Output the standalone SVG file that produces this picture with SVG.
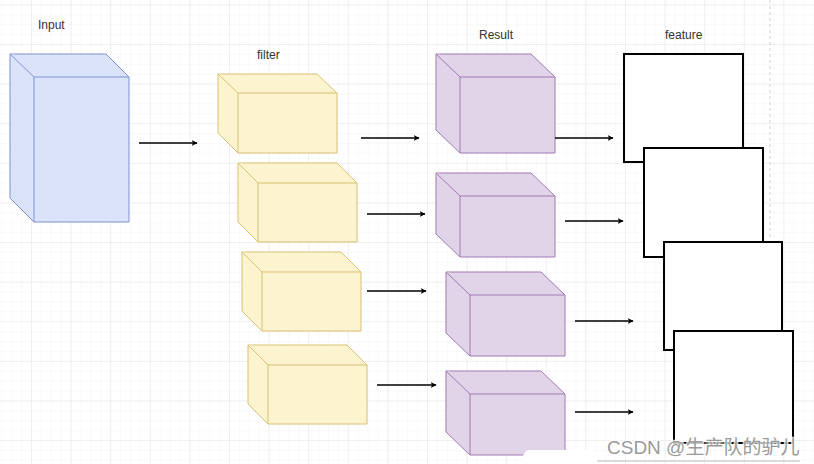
<svg xmlns="http://www.w3.org/2000/svg" width="814" height="464" viewBox="0 0 814 464">
<defs>
<pattern id="minor" x="31" y="4.4" width="9.9" height="9.9" patternUnits="userSpaceOnUse">
<path d="M0 0H9.9M0 0V9.9" fill="none" stroke="#f3f3f3" stroke-width="1"/>
</pattern>
<pattern id="major" x="31" y="4.4" width="39.6" height="39.6" patternUnits="userSpaceOnUse">
<path d="M0 0H39.6M0 0V39.6" fill="none" stroke="#e6e6e6" stroke-width="1"/>
</pattern>
<marker id="arr" viewBox="0 0 10 10" refX="9" refY="5" markerWidth="6" markerHeight="6" markerUnits="userSpaceOnUse" orient="auto">
<path d="M0 0L10 5L0 10L2.5 5Z" fill="#000"/>
</marker>
</defs>
<style>
.lbl{font-family:"Liberation Sans",Arial,sans-serif;font-size:12px;fill:#333}
.blue{fill:#dbe3fa;stroke:#7e93cf;stroke-width:1}
.yel{fill:#fcf4cf;stroke:#d9c072;stroke-width:1}
.pur{fill:#e2d4e8;stroke:#a178b2;stroke-width:1}
.feat{fill:#fff;stroke:#000;stroke-width:2}
.con{fill:none;stroke:#000;stroke-width:1.3;marker-end:url(#arr)}
</style>
<rect width="814" height="464" fill="#fff"/>
<rect width="814" height="464" fill="url(#minor)"/>
<rect width="814" height="464" fill="url(#major)"/>
<line x1="770" y1="0" x2="770" y2="240" stroke="#cfcfcf" stroke-width="1" stroke-dasharray="3 3"/>

<text class="lbl" x="38" y="29">Input</text>
<text class="lbl" x="257" y="59">filter</text>
<text class="lbl" x="479" y="39">Result</text>
<text class="lbl" x="665" y="39">feature</text>

<g id="input">
<path class="blue" d="M10 54H106L129 77V222H34L10 198Z"/>
<path class="blue" d="M10 54L34 77H129M34 77V222" fill="none"/>
</g>

<g id="filter1">
<path class="yel" d="M218 74H317L337 93V153H238L218 133Z"/>
<path class="yel" d="M218 74L238 93H337M238 93V153" fill="none"/>
</g>
<g id="filter2">
<path class="yel" d="M238 163H337L357 183V242H258L238 222Z"/>
<path class="yel" d="M238 163L258 183H357M258 183V242" fill="none"/>
</g>
<g id="filter3">
<path class="yel" d="M242 252H341L361 272V331H262L242 311Z"/>
<path class="yel" d="M242 252L262 272H361M262 272V331" fill="none"/>
</g>
<g id="filter4">
<path class="yel" d="M248 345H347L367 365V424H268L248 404Z"/>
<path class="yel" d="M248 345L268 365H367M268 365V424" fill="none"/>
</g>

<g id="result1">
<path class="pur" d="M436 54H531L555 77V153H460L436 130Z"/>
<path class="pur" d="M436 54L460 77H555M460 77V153" fill="none"/>
</g>
<g id="result2">
<path class="pur" d="M436 173H531L555 196V257H460L436 234Z"/>
<path class="pur" d="M436 173L460 196H555M460 196V257" fill="none"/>
</g>
<g id="result3">
<path class="pur" d="M446 272H541L565 295V356H470L446 333Z"/>
<path class="pur" d="M446 272L470 295H565M470 295V356" fill="none"/>
</g>
<g id="result4">
<path class="pur" d="M446 371H541L565 394V455H470L446 432Z"/>
<path class="pur" d="M446 371L470 394H565M470 394V455" fill="none"/>
</g>

<g id="feature1"><rect class="feat" x="624" y="54" width="119" height="108"/></g>
<g id="feature2"><rect class="feat" x="644" y="148" width="119" height="109"/></g>
<g id="feature3"><rect class="feat" x="664" y="242" width="118" height="108"/></g>
<g id="feature4"><rect class="feat" x="674" y="331" width="119" height="112"/></g>

<g id="connectors">
<line class="con" x1="139" y1="143" x2="197" y2="143"/>
<line class="con" x1="361" y1="138" x2="419" y2="138"/>
<line class="con" x1="367" y1="214" x2="425" y2="214"/>
<line class="con" x1="367" y1="291" x2="426" y2="291"/>
<line class="con" x1="377" y1="385" x2="436" y2="385"/>
<line class="con" x1="555" y1="138" x2="613" y2="138"/>
<line class="con" x1="565" y1="221" x2="623" y2="221"/>
<line class="con" x1="575" y1="321" x2="633" y2="321"/>
<line class="con" x1="575" y1="412" x2="633" y2="412"/>
</g>

<rect x="523" y="450" width="75" height="14" rx="7" fill="#fff"/>
<line x1="597" y1="461" x2="800" y2="461" stroke="#cfcfcf" stroke-width="1.5"/>
<text x="607" y="454" font-family="'Liberation Sans','Noto Sans CJK SC',sans-serif" font-size="19" fill="#9a9a9a" stroke="#fff" stroke-width="3" paint-order="stroke" stroke-opacity="0.8">CSDN @生产队的驴儿</text>
</svg>
